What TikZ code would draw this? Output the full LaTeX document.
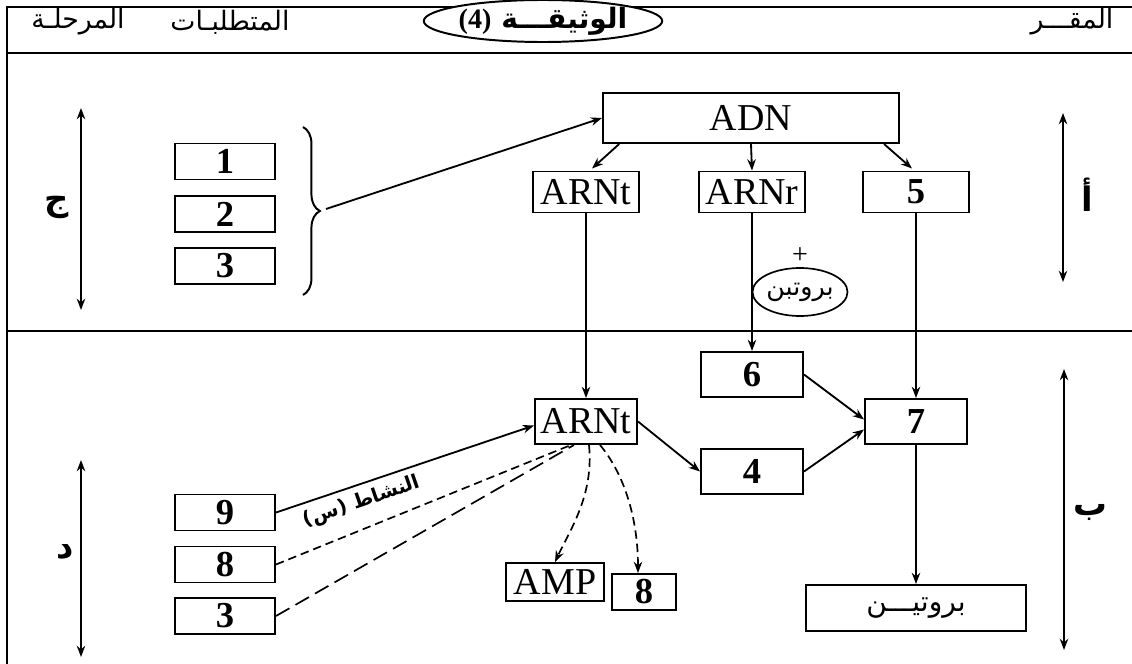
\documentclass[tikz,border=0pt]{standalone}
\usepackage{fontspec}
\setmainfont{Liberation Serif}
\newfontfamily\arabicfont[Script=Arabic]{DejaVu Sans}
\TeXXeTstate=1
\usetikzlibrary{arrows.meta,shapes.geometric,decorations.pathreplacing}
\begin{document}
\begin{tikzpicture}[x=0.025cm,y=-0.025cm,
  box/.style={draw,line width=1.4pt,inner sep=0pt,font=\fontsize{27}{29}\selectfont},
  numbox/.style={box,font=\bfseries\fontsize{26}{28}\selectfont},
  flow/.style={line width=1.3pt,-{Stealth[length=8pt,width=6pt]}},
  span/.style={line width=1.5pt,{Stealth[length=8pt,width=6pt]}-{Stealth[length=8pt,width=6pt]}},
  dashA/.style={line width=1.2pt,dash pattern=on 6pt off 3.5pt},
  dashB/.style={line width=1.2pt,dash pattern=on 11pt off 5pt},
  ar/.style={font=\arabicfont\fontsize{19}{21}\selectfont},
  arbold/.style={font=\arabicfont\bfseries\fontsize{24}{26}\selectfont}]
\useasboundingbox (0,0) rectangle (1132,664);

%cadre
\draw[line width=1.4pt] (7,664)--(7,7)--(1132,7);
\draw[line width=1.4pt] (7,53)--(1132,53);
\draw[line width=1.4pt] (7,331)--(1132,331);

%en-tete
\node[draw,ellipse,fill=white,line width=1.4pt,minimum width=5.575cm,minimum height=1.05cm,inner sep=0pt,
  font=\arabicfont\bfseries\fontsize{20}{22}\selectfont] (doc) at (543,21) {\beginR الوثيقـــة \beginL{\rmfamily(4)}\endL\endR};
\node[ar] (stage) at (78,22) {\beginR المرحلـة\endR};
\node[ar] (needs) at (230,22) {\beginR المتطلبـات\endR};
\node[ar] (site) at (1072,22) {\beginR المقـــر\endR};

%partie haute
\node[box,minimum width=7.4cm,minimum height=1.25cm] (adn) at (751,118) {ADN};
\node[box,minimum width=2.65cm,minimum height=1.025cm] (arnt) at (586,192) {ARNt};
\node[box,minimum width=2.65cm,minimum height=1.025cm] (arnr) at (752,192) {ARNr};
\node[numbox,minimum width=2.65cm,minimum height=1.025cm] (five) at (916,192) {5};
\draw[flow] ([xshift=0.43cm]adn.south west) -- ([xshift=0.15cm,yshift=0.05cm]arnt.north);
\draw[flow] (adn.south) -- (arnr.north);
\draw[flow] ([xshift=-0.4cm]adn.south east) -- ([xshift=-0.1cm,yshift=0.05cm]five.north);

\node[numbox,minimum width=2.5cm,minimum height=0.9cm] (one) at (225,161.5) {1};
\node[numbox,minimum width=2.5cm,minimum height=0.9cm] (two) at (225,214) {2};
\node[numbox,minimum width=2.5cm,minimum height=0.9cm] (three) at (225,266) {3};
\draw[line width=1.4pt,decorate,decoration={brace,amplitude=12pt}] (303,127) -- (303,295);
\coordinate (bracetip) at (326,209);
\draw[flow] (bracetip) -- (adn.west);

\node[draw,ellipse,line width=1.2pt,minimum width=2.35cm,minimum height=1.2cm,inner sep=0pt,
  font=\arabicfont\fontsize{18}{20}\selectfont] (prot1) at (800,292) {\beginR بروتبن\endR};
\node[font=\fontsize{20}{22}\selectfont] (plus) at (800,256) {+};

%partie basse
\node[box,minimum width=2.55cm,minimum height=1.125cm] (arnt2) at (586,421.5) {ARNt};
\node[numbox,minimum width=2.55cm,minimum height=1.125cm] (six) at (752,374.5) {6};
\node[numbox,minimum width=2.55cm,minimum height=1.125cm] (four) at (752,471.5) {4};
\node[numbox,minimum width=2.55cm,minimum height=1.125cm] (seven) at (916,421.5) {7};
\node[box,minimum width=5.5cm,minimum height=1.15cm,font=\arabicfont\fontsize{20}{22}\selectfont] (prot2) at (916,608) {\beginR بروتيـــن\endR};
\draw[flow] (arnt.south) -- (arnt2.north);
\draw[flow] (arnr.south) -- (six.north);
\draw[flow] (five.south) -- (seven.north);
\draw[flow] (arnt2.east) -- (four.west);
\draw[flow] (six.east) -- ([yshift=0.05cm]seven.west);
\draw[flow] (four.east) -- ([yshift=-0.2cm]seven.west);
\draw[flow] (seven.south) -- (prot2.north);

\node[numbox,minimum width=2.5cm,minimum height=0.9cm] (nine) at (225,512.5) {9};
\node[numbox,minimum width=2.5cm,minimum height=0.9cm] (eight) at (225,564.5) {8};
\node[numbox,minimum width=2.5cm,minimum height=0.9cm] (threeb) at (225,616) {3};
\node[box,minimum width=2.45cm,minimum height=0.95cm] (amp) at (555,582) {AMP};
\node[numbox,minimum width=1.6cm,minimum height=0.9cm] (eightb) at (644,592) {8};
\draw[flow] (nine.east) -- ([yshift=-0.1cm]arnt2.west);
\draw[dashA] (eight.east) -- ([xshift=-0.375cm]arnt2.south);
\draw[dashB] (threeb.east) -- ([xshift=-0.3cm]arnt2.south);
\draw[dashA,-{Stealth[length=8pt,width=6pt]}] ([xshift=0.075cm]arnt2.south) .. controls (594,495) and (570,530) .. (amp.north);
\draw[dashA,-{Stealth[length=8pt,width=6pt]}] ([xshift=0.35cm]arnt2.south) .. controls (625,475) and (638,520) .. ([xshift=-0.15cm]eightb.north);
\node[rotate=19,inner sep=0pt,font=\arabicfont\bfseries\fontsize{14}{16}\selectfont] (activity) at (362,502) {\beginR النشاط \beginL(س)\endL\endR};

%fleches des etapes
\coordinate (j1) at (81,108); \coordinate (j2) at (81,310);
\coordinate (d1) at (81,460); \coordinate (d2) at (81,657);
\coordinate (a1) at (1063,113); \coordinate (a2) at (1063,282);
\coordinate (b1) at (1064,369); \coordinate (b2) at (1064,650);
\draw[span] (j1) -- (j2);
\draw[span] (d1) -- (d2);
\draw[span] (a1) -- (a2);
\draw[span] (b1) -- (b2);
\node[arbold] (jim) at (57,207) {ج};
\node[arbold] (dal) at (65,552) {د};
\node[arbold] (alif) at (1087,195) {أ};
\node[arbold] (ba) at (1090,512) {ب};
\end{tikzpicture}
\end{document}
